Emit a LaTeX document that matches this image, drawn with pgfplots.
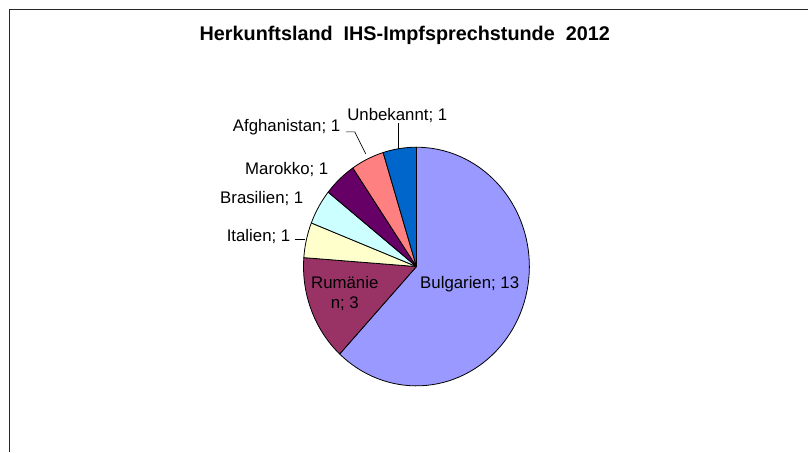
\documentclass[border=0pt]{standalone}
\usepackage{pgfplots}
\pgfplotsset{compat=1.18}
\usepackage{fontspec}
\setmainfont{Liberation Sans}
\definecolor{cBul}{HTML}{9999FF}
\definecolor{cRum}{HTML}{993366}
\definecolor{cIta}{HTML}{FFFFCC}
\definecolor{cBra}{HTML}{CCFFFF}
\definecolor{cMar}{HTML}{660066}
\definecolor{cAfg}{HTML}{FF8080}
\definecolor{cUnb}{HTML}{0066CC}
\newcommand{\lbl}{\fontsize{16.8}{19}\selectfont}
\begin{document}
\begin{tikzpicture}
\begin{axis}[
  x=1pt, y=1pt, y dir=reverse,
  xmin=0, xmax=808, ymin=0, ymax=452,
  hide axis, clip=false, scale only axis,
  every axis plot/.append style={draw=black, line width=0.8pt, line join=round},
]
\path (axis cs:0,0) rectangle (axis cs:808,452);
% frame (only left and top edges visible)
\draw[line width=1pt, black!85] (axis cs:10,452) -- (axis cs:10,10) -- (axis cs:808,10);
% pie slices: values 13,3,1,1,1,1,1 (total 21), clockwise from top
\def\cx{416.7}\def\cy{266.7}\def\rx{113}\def\ry{119.4}
\addplot[fill=cBul, domain=0:13, samples=80, variable=\t]
  ({\cx+\rx*cos(90-360*\t/21)},{\cy-\ry*sin(90-360*\t/21)}) -- (axis cs:\cx,\cy) -- cycle;
\addplot[fill=cRum, domain=13:16, samples=25, variable=\t]
  ({\cx+\rx*cos(90-360*\t/21)},{\cy-\ry*sin(90-360*\t/21)}) -- (axis cs:\cx,\cy) -- cycle;
\addplot[fill=cIta, domain=16:17, samples=10, variable=\t]
  ({\cx+\rx*cos(90-360*\t/21)},{\cy-\ry*sin(90-360*\t/21)}) -- (axis cs:\cx,\cy) -- cycle;
\addplot[fill=cBra, domain=17:18, samples=10, variable=\t]
  ({\cx+\rx*cos(90-360*\t/21)},{\cy-\ry*sin(90-360*\t/21)}) -- (axis cs:\cx,\cy) -- cycle;
\addplot[fill=cMar, domain=18:19, samples=10, variable=\t]
  ({\cx+\rx*cos(90-360*\t/21)},{\cy-\ry*sin(90-360*\t/21)}) -- (axis cs:\cx,\cy) -- cycle;
\addplot[fill=cAfg, domain=19:20, samples=10, variable=\t]
  ({\cx+\rx*cos(90-360*\t/21)},{\cy-\ry*sin(90-360*\t/21)}) -- (axis cs:\cx,\cy) -- cycle;
\addplot[fill=cUnb, domain=20:21, samples=10, variable=\t]
  ({\cx+\rx*cos(90-360*\t/21)},{\cy-\ry*sin(90-360*\t/21)}) -- (axis cs:\cx,\cy) -- cycle;
% leader lines
\draw[line width=0.6pt] (axis cs:399,123) -- (axis cs:399,149);
\draw[line width=0.6pt] (axis cs:346,132) -- (axis cs:355,132) -- (axis cs:366,154);
\draw[line width=0.6pt] (axis cs:295,239.5) -- (axis cs:305,239.5);
% title
\node[anchor=base, font=\bfseries\fontsize{19.8}{22}\selectfont] at (axis cs:405,40.7) {Herkunftsland\ \ IHS-Impfsprechstunde\ \ 2012};
% labels
\node[anchor=base, font=\lbl] at (axis cs:397.5,121) {Unbekannt; 1};
\node[anchor=base east, font=\lbl] at (axis cs:344,131.7) {Afghanistan; 1};
\node[anchor=base east, font=\lbl] at (axis cs:332,175) {Marokko; 1};
\node[anchor=base east, font=\lbl] at (axis cs:307,203.3) {Brasilien; 1};
\node[anchor=base east, font=\lbl] at (axis cs:294,241.7) {Italien; 1};
\node[anchor=base, font=\lbl] at (axis cs:345,288.3) {Rumänie};
\node[anchor=base, font=\lbl] at (axis cs:345,308.3) {n; 3};
\node[anchor=base, font=\lbl] at (axis cs:470,288.3) {Bulgarien; 13};
\end{axis}
\end{tikzpicture}
\end{document}
